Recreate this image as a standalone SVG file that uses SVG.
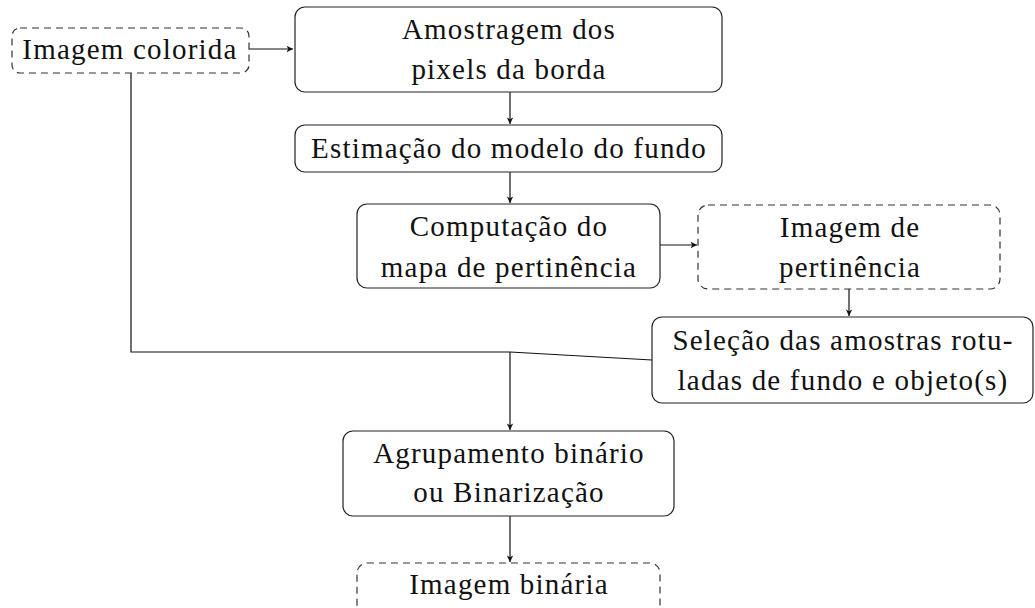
<svg xmlns="http://www.w3.org/2000/svg" width="1035" height="608" viewBox="0 0 1035 608">
<defs>
<style>
.n{fill:#fff;stroke:#222;stroke-width:1.2}
.d{fill:#fff;stroke:#333;stroke-width:1.2;stroke-dasharray:7 5}
.t{font-family:"Liberation Serif","DejaVu Serif",serif;font-size:29px;fill:#111;text-anchor:middle;letter-spacing:1.2px}
.c{fill:none;stroke:#111;stroke-width:1.2}
</style>
<marker id="a" viewBox="0 0 10 10" refX="9" refY="5" markerWidth="8" markerHeight="8" markerUnits="userSpaceOnUse" orient="auto">
<path d="M1,1 L9,5 L1,9 L3,5 Z" fill="#111"/>
</marker>
</defs>
<rect width="1035" height="608" fill="#fff"/>
<g id="connectors">
<line class="c" x1="249" y1="49" x2="293" y2="49" marker-end="url(#a)"/>
<line class="c" x1="510" y1="92" x2="510" y2="124" marker-end="url(#a)"/>
<line class="c" x1="510" y1="172" x2="510" y2="203" marker-end="url(#a)"/>
<line class="c" x1="660" y1="245" x2="697" y2="245" marker-end="url(#a)"/>
<line class="c" x1="849" y1="289" x2="849" y2="316" marker-end="url(#a)"/>
<polyline class="c" points="131,73 131,352 510,352 652,360"/>
<line class="c" x1="510" y1="352" x2="510" y2="430" marker-end="url(#a)"/>
<line class="c" x1="510" y1="516" x2="510" y2="562" marker-end="url(#a)"/>
</g>
<g id="imagem-colorida">
<rect class="d" x="12" y="28" width="237" height="45" rx="8"/>
<text class="t" x="130" y="59">Imagem colorida</text>
</g>
<g id="amostragem">
<rect class="n" x="295" y="7" width="427" height="85" rx="10"/>
<text class="t" x="509" y="39">Amostragem dos</text>
<text class="t" x="509" y="79">pixels da borda</text>
</g>
<g id="estimacao">
<rect class="n" x="295" y="125" width="427" height="47" rx="10"/>
<text class="t" x="509" y="158">Estimação do modelo do fundo</text>
</g>
<g id="computacao">
<rect class="n" x="357" y="204" width="303" height="84" rx="10"/>
<text class="t" x="509" y="236">Computação do</text>
<text class="t" x="509" y="277">mapa de pertinência</text>
</g>
<g id="imagem-pertinencia">
<rect class="d" x="698" y="205" width="302" height="84" rx="10"/>
<text class="t" x="850" y="237">Imagem de</text>
<text class="t" x="850" y="277">pertinência</text>
</g>
<g id="selecao">
<rect class="n" x="652" y="317" width="381" height="86" rx="10"/>
<text class="t" x="843" y="350">Seleção das amostras rotu-</text>
<text class="t" x="843" y="390">ladas de fundo e objeto(s)</text>
</g>
<g id="agrupamento">
<rect class="n" x="343" y="431" width="331" height="85" rx="10"/>
<text class="t" x="509" y="463">Agrupamento binário</text>
<text class="t" x="509" y="502">ou Binarização</text>
</g>
<g id="imagem-binaria">
<rect class="d" x="357" y="563" width="303" height="60" rx="10"/>
<text class="t" x="509" y="594">Imagem binária</text>
</g>
</svg>
